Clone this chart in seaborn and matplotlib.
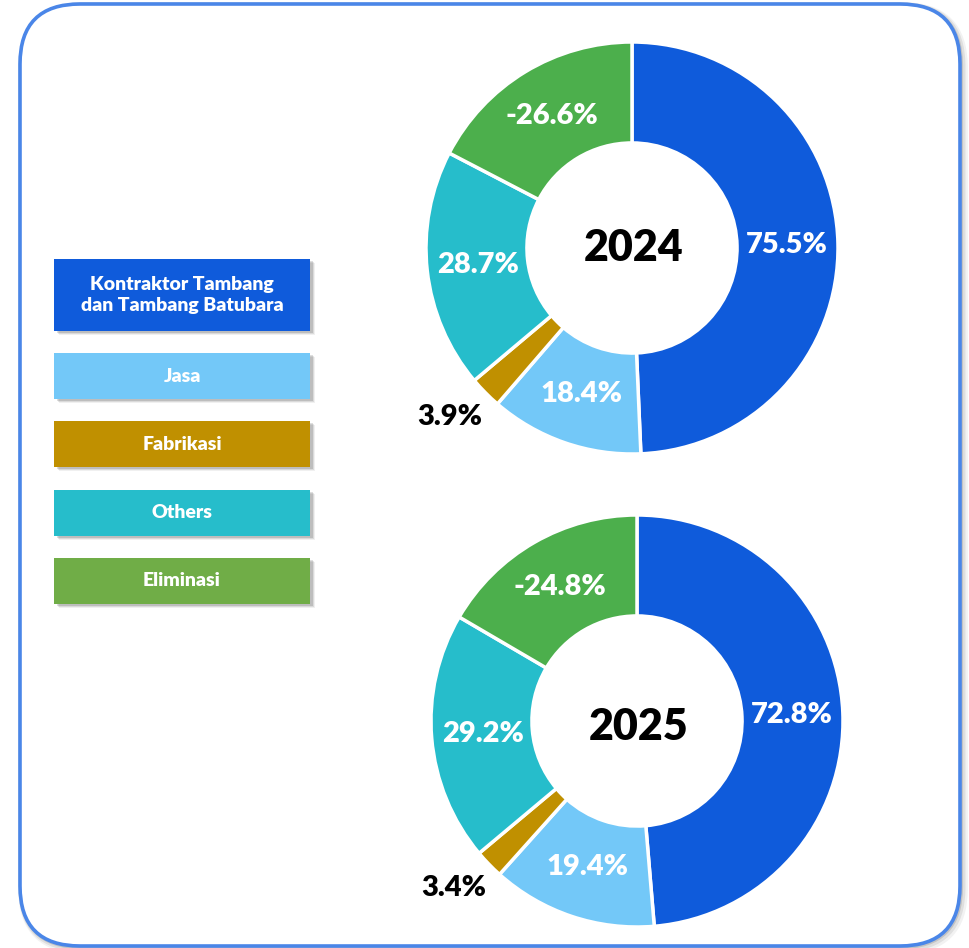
import matplotlib.pyplot as plt
import seaborn as sns
import numpy as np
from matplotlib.patches import FancyBboxPatch, Rectangle

# data
categories = ['Kontraktor Tambang\ndan Tambang Batubara', 'Jasa', 'Fabrikasi', 'Others', 'Eliminasi']
years = ['2024', '2025']
values_2024 = [75.5, 18.4, 3.9, 28.7, -26.6]
values_2025 = [72.8, 19.4, 3.4, 29.2, -24.8]

pie_colors = ['#0F5BDB', '#73C8F8', '#C09000', '#26BDCB', '#4CAF4C']
legend_colors = ['#0F5BDB', '#73C8F8', '#C09000', '#26BDCB', '#70AD47']

sns.set_theme(style='white')
plt.rcParams['font.family'] = ['Lato', 'DejaVu Sans']

W, H = 970, 948
fig = plt.figure(figsize=(W / 100, H / 100), dpi=100)
ax = fig.add_axes([0, 0, 1, 1])
ax.set_xlim(0, W)
ax.set_ylim(0, H)
ax.set_aspect('equal')
ax.axis('off')

# outer rounded frame with a soft shadow
for k, a in enumerate([0.05, 0.08, 0.12]):
    ax.add_patch(FancyBboxPatch((20 + 3 - k, 2 - 3 + k), 940, 942,
                                boxstyle='round,pad=0,rounding_size=60',
                                fc='none', ec='#000000', lw=3 + 2 * (2 - k), alpha=a, zorder=0))
ax.add_patch(FancyBboxPatch((20, 2), 940, 942, boxstyle='round,pad=0,rounding_size=60',
                            fc='white', ec='#4A86E8', lw=2.6, zorder=1))

# legend boxes
box_tops = [259, 353, 421, 490, 558]
box_bottoms = [331, 399, 467, 536, 604]
for cat, col, t, b in zip(categories, legend_colors, box_tops, box_bottoms):
    h = b - t
    for k, a in enumerate([0.06, 0.09, 0.13]):
        off = 4 - k
        ax.add_patch(Rectangle((54 + off + 1, H - b - off), 256, h, fc='#000000',
                               ec='none', alpha=a, zorder=2))
    ax.add_patch(Rectangle((54, H - b), 256, h, fc=col, ec='none', zorder=3))
    ax.text(182, H - (t + b) / 2, cat, ha='center', va='center', color='white',
            fontsize=14, fontweight='heavy', linespacing=1.3, zorder=4)


def donut(vals, cx, cy, r, year, year_dy):
    sizes = np.abs(vals)
    wedges, _ = ax.pie(sizes, colors=pie_colors, startangle=90, counterclock=False,
                       center=(cx, cy), radius=r, frame=True,
                       wedgeprops=dict(width=r * 0.49, edgecolor='white', linewidth=2.5))
    for w in wedges:
        w.set_zorder(5)
    for i, (w, v) in enumerate(zip(wedges, vals)):
        ang = np.deg2rad((w.theta1 + w.theta2) / 2)
        if i == 2:
            x = cx + r * 1.2 * np.cos(ang) - 6
            y = cy + r * 1.2 * np.sin(ang) + 5
            col = 'black'
        else:
            x = cx + r * 0.75 * np.cos(ang)
            y = cy + r * 0.75 * np.sin(ang)
            col = 'white'
        ax.text(x, y, f'{v:.1f}%', ha='center', va='center', color=col,
                fontsize=21, fontweight='heavy', zorder=6)
    ax.text(cx + 2, cy + year_dy, year, ha='center', va='center', color='black',
            fontsize=31, fontweight='heavy', zorder=6)


donut(values_2024, 632, H - 248, 206, years[0], 0)
donut(values_2025, 637, H - 721, 206, years[1], -6)

ax.set_xlim(0, W)
ax.set_ylim(0, H)
ax.axis('off')

fig.savefig('out.png', dpi=100, facecolor='white')
